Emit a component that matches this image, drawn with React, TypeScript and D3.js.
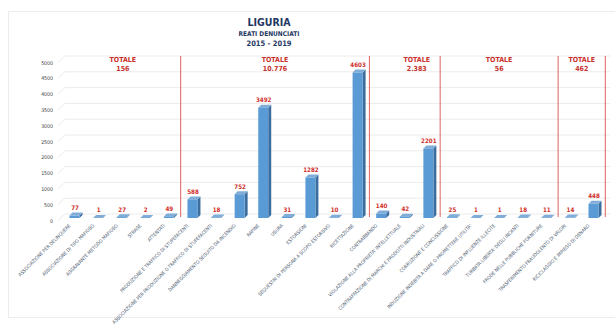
import React from "react";
import * as d3 from "d3";

const categories = [
  "ASSOCIAZIONE PER DELINQUERE",
  "ASSOCIAZIONE DI TIPO MAFIOSO",
  "AGGRAVANTE METODO MAFIOSO",
  "STRAGE",
  "ATTENTATI",
  "PRODUZIONE E TRAFFICO DI STUPEFACENTI",
  "ASSOCIAZIONE PER PRODUZIONE O TRAFFICO DI STUPEFACENTI",
  "DANNEGGIAMENTO SEGUITO DA INCENDIO",
  "RAPINE",
  "USURA",
  "ESTORSIONI",
  "SEQUESTRI DI PERSONA A SCOPO ESTORSIVO",
  "RICETTAZIONE",
  "CONTRABBANDO",
  "VIOLAZIONE ALLA PROPRIETA' INTELLETTUALE",
  "CONTRAFFAZIONE DI MARCHI E PRODOTTI INDUSTRIALI",
  "CORRUZIONE E CONCUSSIONE",
  "INDUZIONE INDEBITA A DARE O PROMETTERE UTILITA'",
  "TRAFFICO DI INFLUENZE ILLECITE",
  "TURBATA LIBERTA' DEGLI INCANTI",
  "FRODE NELLE PUBBLICHE FORNITURE",
  "TRASFERIMENTO FRAUDOLENTO DI VALORI",
  "RICICLAGGIO E IMPIEGO DI DENARO",
];
const values = [77, 1, 27, 2, 49, 588, 18, 752, 3492, 31, 1282, 10, 4603, 140, 42, 2201, 25, 1, 1, 18, 11, 14, 448];
const groupEnds = [4, 12, 15, 20, 22]; // last category index of each group
const groupTotals = ["156", "10.776", "2.383", "56", "462"];
const yTicks = [0, 500, 1000, 1500, 2000, 2500, 3000, 3500, 4000, 4500, 5000];
const title = "LIGURIA";
const subtitle1 = "REATI DENUNCIATI";
const subtitle2 = "2015 - 2019";

const W = 615;
const H = 329;
const FONT = "'Liberation Sans Narrow', 'DejaVu Sans Condensed', 'Liberation Sans', Arial, sans-serif";
const totalOffsets = [2, 0, 12, 0, 0];

export default function App() {
  const x = d3.scalePoint<string>().domain(categories).range([73, 592]);
  const step = x.step();
  const y = d3.scaleLinear().domain([0, 5000]).range([220.5, 62.5]);
  const wallDx = 7;
  const wallDy = -6.5;
  const barDx = 1.5;
  const barDy = -2.5;
  const depthX = 3;
  const depthY = -3;
  const bw = 10;
  const wallLeft = 58 + wallDx;
  const wallRight = 610;

  const sepXs = groupEnds.map((e) => (x(categories[e]) as number) + step / 2 + 1.5);

  return (
    <svg width={W} height={H} style={{ display: "block", position: "absolute", left: 0, top: 0 }} fontFamily={FONT}>
      <rect x={0} y={0} width={W} height={H} fill="#fff" />
      <rect x={8.5} y={11.5} width={W} height={306} fill="none" stroke="#ececec" strokeWidth={1} />
      <text x={269} y={25.5} textAnchor="middle" fontSize={10.5} fontWeight="bold" fill="#1f3864">{title}</text>
      <text x={269} y={36.3} textAnchor="middle" fontSize={6.5} fontWeight="bold" fill="#1f3864">{subtitle1}</text>
      <text x={269} y={46} textAnchor="middle" fontSize={7.5} fontWeight="bold" fill="#1f3864">{subtitle2}</text>

      {yTicks.map((t) => (
        <g key={t}>
          <path
            d={`M${58},${y(t)} L${wallLeft},${y(t) + wallDy} L${wallRight},${y(t) + wallDy}`}
            fill="none"
            stroke="#e6e6e6"
            strokeWidth={0.8}
          />
          <text x={53} y={y(t) + 2} textAnchor="end" fontSize={5.2} fill="#404040">{t}</text>
        </g>
      ))}

      {sepXs.map((sx, i) => (
        <line key={i} x1={sx} x2={sx} y1={56} y2={217} stroke="#e06060" strokeWidth={1} />
      ))}

      {values.map((v, i) => {
        const cx = x(categories[i]) as number;
        const x0 = cx - bw / 2 + barDx;
        const x1 = x0 + bw;
        const yb = y(0) + barDy;
        const yt = y(v) + barDy;
        return (
          <g key={i}>
            <path d={`M${x1},${yb} L${x1 + depthX},${yb + depthY} L${x1 + depthX},${yt + depthY} L${x1},${yt} Z`} fill="#3b6e9e" />
            <path d={`M${x0},${yt} L${x0 + depthX},${yt + depthY} L${x1 + depthX},${yt + depthY} L${x1},${yt} Z`} fill="#7fadd8" />
            <rect x={x0} y={yt} width={bw} height={yb - yt} fill="#5b9bd5" />
            <text x={cx + 2} y={yt + depthY - 2.5} textAnchor="middle" fontSize={6.2} fontWeight="bold" fill="#d0302b">{v}</text>
          </g>
        );
      })}

      {categories.map((c, i) => {
        const cx = (x(c) as number) - 2;
        const ty = 226;
        return (
          <text key={i} transform={`translate(${cx},${ty}) rotate(-45)`} textAnchor="end" fontSize={4.8} fill="#44546a">{c}</text>
        );
      })}

      {groupTotals.map((t, i) => {
        const left = i === 0 ? 61 : sepXs[i - 1];
        const right = sepXs[i];
        const cx = (left + right) / 2 + totalOffsets[i];
        return (
          <g key={i}>
            <text x={cx} y={61.8} textAnchor="middle" fontSize={7} fontWeight="bold" fill="#c8302b">TOTALE</text>
            <text x={cx} y={71} textAnchor="middle" fontSize={7} fontWeight="bold" fill="#c8302b">{t}</text>
          </g>
        );
      })}
    </svg>
  );
}
